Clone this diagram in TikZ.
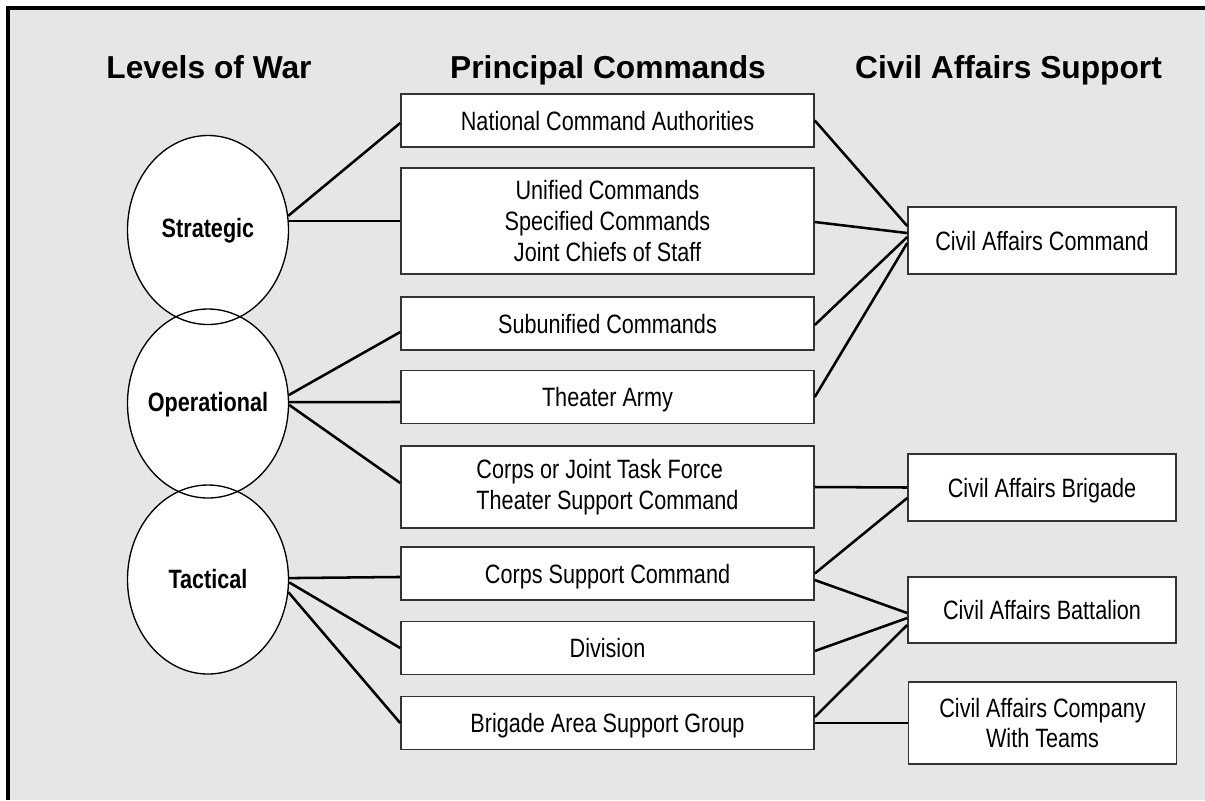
\documentclass[tikz,border=0pt]{standalone}
\usepackage{fontspec}
\setmainfont{Liberation Sans}
\newfontfamily\narrowsans[FakeStretch=0.815]{Liberation Sans}
\usetikzlibrary{shapes.geometric}
\definecolor{bggray}{HTML}{E6E6E6}
\definecolor{boxline}{HTML}{333333}
\begin{document}
\begin{tikzpicture}[x=0.75pt, y=-0.75pt,
  hdr/.style={font=\bfseries\fontsize{23.8}{28}\selectfont, anchor=base, inner sep=0pt},
  mbox/.style={draw=boxline, line width=1.2pt, fill=white, minimum width=309.75pt, inner sep=0pt,
    font=\narrowsans\fontsize{19.9}{22.9}\selectfont, align=center},
  rbox/.style={mbox, minimum width=201pt},
  oneline/.style={text height=14.3pt, text depth=0pt},
  lvl/.style={ellipse, draw, line width=1pt, minimum width=120.75pt, minimum height=141.75pt, inner sep=0pt},
  lvltxt/.style={font=\narrowsans\bfseries\fontsize{19.9}{22.9}\selectfont, text height=14.3pt, text depth=0pt, inner sep=0pt},
  conn/.style={line width=1.9pt, black}]
\useasboundingbox (0,0) rectangle (1205,800);
\fill[bggray] (8,8) rectangle (1205,800);
\draw[line width=2.6pt] (8,800) -- (8,8) -- (1205,8);

% headers
\node[hdr] (h1) at (209,78) {Levels of War};
\node[hdr] (h2) at (608,78) {Principal Commands};
\node[hdr] (h3) at (1008.5,78) {Civil Affairs Support};

% ellipse fills
\fill[white] (208,230) ellipse [x radius=80.5, y radius=94.5];
\fill[white] (208,403.5) ellipse [x radius=80.5, y radius=94.5];
\fill[white] (208,579.5) ellipse [x radius=80.5, y radius=94.5];
% ellipse outlines
\node[lvl] (strat) at (208,230) {};
\node[lvl] (oper) at (208,403.5) {};
\node[lvl] (tact) at (208,579.5) {};
\node[lvltxt] (stratT) at (208,228) {Strategic};
\node[lvltxt] (operT) at (208,402) {Operational};
\node[lvltxt] (tactT) at (208,579) {Tactical};

% principal commands
\node[mbox, oneline, minimum height=39.75pt] (nca) at (607.5,120.5) {National Command Authorities};
\node[mbox, minimum height=79.5pt] (uni) at (607.5,221) {Unified Commands\\Specified Commands\\Joint Chiefs of Staff};
\node[mbox, oneline, minimum height=39.75pt] (sub) at (607.5,323.5) {Subunified Commands};
\node[mbox, oneline, minimum height=39.75pt] (ta) at (607.5,397) {Theater Army};
\node[mbox, minimum height=61.5pt, align=left] (cjtf) at (607.5,487) {Corps or Joint Task Force\\Theater Support Command};
\node[mbox, oneline, minimum height=39.75pt] (csc) at (607.5,573.5) {Corps Support Command};
\node[mbox, oneline, minimum height=39.75pt] (div) at (607.5,648) {Division};
\node[mbox, oneline, minimum height=39.75pt] (basg) at (607.5,723) {Brigade Area Support Group};

% civil affairs support
\node[rbox, oneline, minimum height=50.25pt] (cac) at (1042,240.5) {Civil Affairs Command};
\node[rbox, oneline, minimum height=50.25pt] (cab) at (1042,487.5) {Civil Affairs Brigade};
\node[rbox, oneline, minimum height=49.5pt] (cabn) at (1042,610) {Civil Affairs Battalion};
\node[rbox, minimum height=61.5pt] (cacomp) at (1042.5,723) {Civil Affairs Company\\With Teams};

% connectors left
\draw[conn] (strat.10) -- ([yshift=-1.9pt]nca.west);
\draw[conn] (uni.west -| strat.east) -- (uni.west);
\draw[conn] (oper.6) -- ([yshift=-6.4pt]sub.west);
\draw[conn] (oper.1) -- ([yshift=-3.75pt]ta.west);
\draw[conn] (oper.-1) -- ([yshift=3pt]cjtf.west);
\draw[conn] (tact.1) -- ([yshift=-2.6pt]csc.west);
\draw[conn] (tact.-2.5) -- (div.west);
\draw[conn] (tact.-9) -- (basg.west);

% connectors right
\draw[conn] (nca.east) -- ([yshift=10.9pt]cac.west);
\draw[conn] ([yshift=-0.75pt]uni.east) -- ([yshift=5.6pt]cac.west);
\draw[conn] ([yshift=-1.1pt]sub.east) -- ([yshift=2.6pt]cac.west);
\draw[conn] (ta.east) -- ([yshift=-1.9pt]cac.west);
\draw[conn] (cjtf.east) -- (cab.west);
\draw[conn] (csc.east) -- ([yshift=-7.9pt]cab.west);
\draw[conn] ([yshift=-4.9pt]csc.east) -- ([yshift=-2.25pt]cabn.west);
\draw[conn] ([yshift=-2.25pt]div.east) -- ([yshift=-6pt]cabn.west);
\draw[conn] ([yshift=4.5pt]basg.east) -- ([yshift=-11.25pt]cabn.west);
\draw[conn] (basg.east) -- (cacomp.west);
\end{tikzpicture}
\end{document}
